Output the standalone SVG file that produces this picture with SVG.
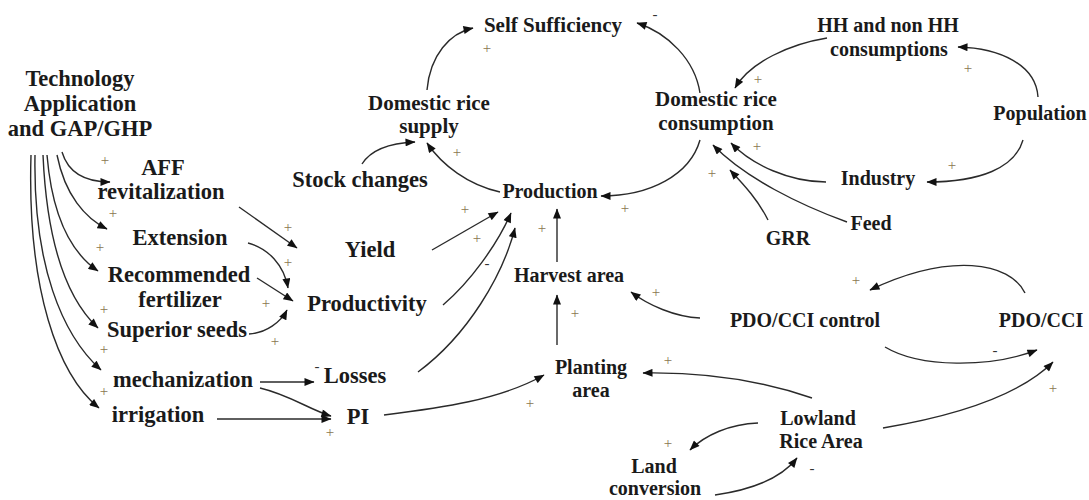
<svg xmlns="http://www.w3.org/2000/svg" width="1089" height="500" viewBox="0 0 1089 500">
<style>
text{font-family:'Liberation Serif','DejaVu Serif','Noto Serif',serif;font-weight:700;fill:#1a1a1a;text-anchor:middle}
.l{font-size:22.5px}
.m{font-size:21px}
.s{font-size:20px}
.p{font-size:15px;font-weight:400;fill:#8a7650}
.n{font-size:15px;font-weight:400;fill:#333}
.c path{fill:none;stroke:#2a2a2a;stroke-width:1.4;marker-end:url(#ah)}
</style>
<defs>
<marker id="ah" viewBox="0 0 10 8" refX="9.5" refY="4" markerWidth="11" markerHeight="8" markerUnits="userSpaceOnUse" orient="auto">
<path d="M0,0 L10,4 L0,8 z" fill="#111"/>
</marker>
</defs>
<rect width="1089" height="500" fill="#fff"/>

<g class="c" id="connectors">
<path d="M62,152 C68,172 85,182 110,182"/>
<path d="M57,155 C65,195 85,218 107,229"/>
<path d="M47,155 C52,215 70,252 98,271"/>
<path d="M43,155 C47,245 68,300 98,328"/>
<path d="M35,155 C33,265 62,335 101,370"/>
<path d="M31,155 C27,290 58,375 99,408"/>
<path d="M239,207 L297,248"/>
<path d="M248,243 C268,248 284,265 288,288"/>
<path d="M257,278 L293,301"/>
<path d="M249,334 C266,333 281,322 287,310"/>
<path d="M432,250 L498,212"/>
<path d="M443,305 C470,282 497,245 511,213"/>
<path d="M418,372 C468,335 503,275 515,228"/>
<path d="M557,262 L557,209"/>
<path d="M260,382 L314,382"/>
<path d="M260,388 C290,395 310,410 331,416"/>
<path d="M217,419 L331,419"/>
<path d="M384,415 C440,408 500,400 544,375"/>
<path d="M362,164 C372,148 392,143 415,142"/>
<path d="M500,192 C468,185 442,165 427,143"/>
<path d="M427,90 C430,55 450,33 473,28"/>
<path d="M700,93 C695,60 668,33 637,23"/>
<path d="M700,140 C690,175 650,196 601,196"/>
<path d="M827,38 C790,44 750,62 735,88"/>
<path d="M1038,97 C1036,65 1000,48 958,47"/>
<path d="M1023,140 C1015,168 980,182 927,182"/>
<path d="M826,182 C790,182 752,165 731,143"/>
<path d="M847,222 C800,205 745,178 713,145"/>
<path d="M768,220 C758,200 745,186 730,170"/>
<path d="M557,345 L557,295"/>
<path d="M700,318 C675,317 648,305 631,292"/>
<path d="M1025,293 C1010,262 950,252 870,290"/>
<path d="M885,347 C920,368 990,368 1037,350"/>
<path d="M883,428 C960,415 1020,395 1053,362"/>
<path d="M812,398 C760,380 700,372 643,373"/>
<path d="M758,423 C730,424 705,435 690,450"/>
<path d="M715,495 C750,490 780,480 797,458"/>
</g>

<g id="polarities">
<text class="p" x="105" y="165">+</text>
<text class="p" x="113" y="218">+</text>
<text class="p" x="100" y="252">+</text>
<text class="p" x="104" y="314">+</text>
<text class="p" x="104" y="354">+</text>
<text class="p" x="104" y="396">+</text>
<text class="p" x="288" y="232">+</text>
<text class="p" x="288" y="267">+</text>
<text class="p" x="266" y="308">+</text>
<text class="p" x="275" y="346">+</text>
<text class="p" x="465" y="214">+</text>
<text class="p" x="477" y="243">+</text>
<text class="n" x="487" y="268">-</text>
<text class="n" x="317" y="371">-</text>
<text class="p" x="330" y="437">+</text>
<text class="p" x="542" y="233">+</text>
<text class="p" x="625" y="213">+</text>
<text class="p" x="457" y="157">+</text>
<text class="p" x="487" y="53">+</text>
<text class="n" x="655" y="19">-</text>
<text class="p" x="758" y="84">+</text>
<text class="p" x="757" y="151">+</text>
<text class="p" x="712" y="178">+</text>
<text class="p" x="968" y="73">+</text>
<text class="p" x="952" y="170">+</text>
<text class="p" x="575" y="318">+</text>
<text class="p" x="656" y="297">+</text>
<text class="p" x="856" y="285">+</text>
<text class="n" x="995" y="355">-</text>
<text class="p" x="1053" y="393">+</text>
<text class="p" x="668" y="365">+</text>
<text class="p" x="668" y="448">+</text>
<text class="n" x="812" y="473">-</text>
<text class="p" x="530" y="408">+</text>
</g>

<g id="technology"><text class="l" x="80"><tspan x="80" y="86">Technology</tspan><tspan x="80" y="111">Application</tspan><tspan x="80" y="136">and GAP/GHP</tspan></text></g>
<g id="aff"><text class="l"><tspan x="163" y="175">AFF</tspan><tspan x="161" y="199">revitalization</tspan></text></g>
<g id="extension"><text class="l" x="180" y="245">Extension</text></g>
<g id="fertilizer"><text class="l"><tspan x="179" y="282">Recommended</tspan><tspan x="180" y="307">fertilizer</tspan></text></g>
<g id="seeds"><text class="l" x="177" y="337">Superior seeds</text></g>
<g id="mechanization"><text class="l" x="183" y="387">mechanization</text></g>
<g id="irrigation"><text class="l" x="158" y="422">irrigation</text></g>
<g id="yield"><text class="l" x="370" y="257">Yield</text></g>
<g id="productivity"><text class="l" x="367" y="311">Productivity</text></g>
<g id="losses"><text class="l" x="355" y="383">Losses</text></g>
<g id="pi"><text class="l" x="358" y="424">PI</text></g>
<g id="stock"><text class="l" x="360" y="187">Stock changes</text></g>
<g id="supply"><text class="m"><tspan x="429" y="110">Domestic rice</tspan><tspan x="429" y="133">supply</tspan></text></g>
<g id="selfsufficiency"><text class="m" x="553" y="32">Self Sufficiency</text></g>
<g id="production"><text class="s" x="550" y="198">Production</text></g>
<g id="consumption"><text class="m"><tspan x="716" y="106">Domestic rice</tspan><tspan x="716" y="130">consumption</tspan></text></g>
<g id="hh"><text class="s"><tspan x="888" y="32">HH and non HH</tspan><tspan x="889" y="56">consumptions</tspan></text></g>
<g id="population"><text class="s" x="1040" y="120">Population</text></g>
<g id="industry"><text class="s" x="878" y="185">Industry</text></g>
<g id="feed"><text class="s" x="871" y="230">Feed</text></g>
<g id="grr"><text class="s" x="788" y="245">GRR</text></g>
<g id="harvest"><text class="s" x="569" y="282">Harvest area</text></g>
<g id="planting"><text class="s"><tspan x="591" y="374">Planting</tspan><tspan x="591" y="397">area</tspan></text></g>
<g id="control"><text class="s" x="805" y="327">PDO/CCI control</text></g>
<g id="pdo"><text class="s" x="1041" y="327">PDO/CCI</text></g>
<g id="lowland"><text class="s"><tspan x="818" y="425">Lowland</tspan><tspan x="821" y="448">Rice Area</tspan></text></g>
<g id="landconv"><text class="s"><tspan x="654" y="473">Land</tspan><tspan x="655" y="495">conversion</tspan></text></g>
</svg>
